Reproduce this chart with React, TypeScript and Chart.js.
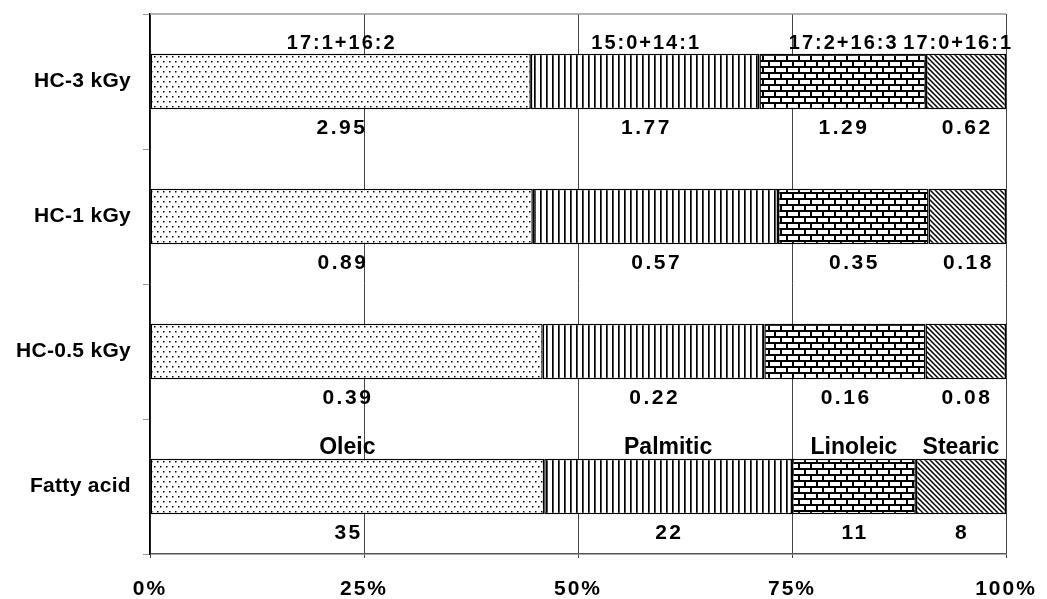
import React, { useEffect, useRef } from "react";
import { Chart, registerables } from "chart.js";

Chart.register(...registerables);

const categories = ["HC-3 kGy", "HC-1 kGy", "HC-0.5 kGy", "Fatty acid"];
const seriesNames = ["Oleic", "Palmitic", "Linoleic", "Stearic"];
const oleic = [2.95, 0.89, 0.39, 35];
const palmitic = [1.77, 0.57, 0.22, 22];
const linoleic = [1.29, 0.35, 0.16, 11];
const stearic = [0.62, 0.18, 0.08, 8];
const compoundLabels = ["17:1+16:2", "15:0+14:1", "17:2+16:3", "17:0+16:1"];
const fattyAcidLabels = ["Oleic", "Palmitic", "Linoleic", "Stearic"];
const xTicks = [0, 25, 50, 75, 100];

const FONT = "'Liberation Sans', Arial, sans-serif";

function makePattern(
  ctx: CanvasRenderingContext2D,
  w: number,
  h: number,
  draw: (g: CanvasRenderingContext2D) => void
) {
  const c = document.createElement("canvas");
  c.width = w;
  c.height = h;
  const g = c.getContext("2d") as CanvasRenderingContext2D;
  g.fillStyle = "#fff";
  g.fillRect(0, 0, w, h);
  g.fillStyle = "#000";
  g.strokeStyle = "#000";
  draw(g);
  return ctx.createPattern(c, "repeat") as CanvasPattern;
}

export default function App() {
  const ref = useRef<HTMLCanvasElement | null>(null);

  useEffect(() => {
    const canvas = ref.current;
    if (!canvas) return;
    const ctx = canvas.getContext("2d") as CanvasRenderingContext2D;

    const dots = makePattern(ctx, 6, 10, (g) => {
      g.fillRect(1, 1, 1.5, 1.5);
      g.fillRect(4, 6, 1.5, 1.5);
    });
    const vlines = makePattern(ctx, 6, 4, (g) => {
      g.fillRect(0, 0, 1.7, 4);
    });
    const bricks = makePattern(ctx, 12, 12, (g) => {
      g.fillRect(0, 0, 12, 2);
      g.fillRect(0, 6, 12, 2);
      g.fillRect(0, 0, 2, 6);
      g.fillRect(6, 6, 2, 6);
    });
    const diag = makePattern(ctx, 5, 5, (g) => {
      g.lineWidth = 1.5;
      g.beginPath();
      g.moveTo(-1, -1);
      g.lineTo(6, 6);
      g.moveTo(-1, 4);
      g.lineTo(1, 6);
      g.moveTo(4, -1);
      g.lineTo(6, 1);
      g.stroke();
    });
    const patterns = [dots, vlines, bricks, diag];

    const series = [oleic, palmitic, linoleic, stearic];
    const totals = categories.map((_, j) =>
      series.reduce((acc, s) => acc + s[j], 0)
    );

    const labelPlugin = {
      id: "segmentLabels",
      afterDatasetsDraw(chart: any) {
        const c = chart.ctx as CanvasRenderingContext2D;
        const area = chart.chartArea;
        c.save();
        // top border of plot frame
        c.strokeStyle = "#999";
        c.lineWidth = 1.5;
        c.beginPath();
        c.moveTo(area.left, area.top);
        c.lineTo(area.right, area.top);
        c.stroke();

        c.fillStyle = "#000";
        c.textAlign = "center";
        c.textBaseline = "alphabetic";
        chart.data.datasets.forEach((_: any, di: number) => {
          const meta = chart.getDatasetMeta(di);
          meta.data.forEach((bar: any, j: number) => {
            const p = bar.getProps(["x", "base", "y", "height"], true);
            const cx = (p.x + p.base) / 2;
            const top = p.y - p.height / 2;
            const bottom = p.y + p.height / 2;
            (c as any).letterSpacing = "2.5px";
            c.font = `bold 21px ${FONT}`;
            c.fillText(String(series[di][j]), cx + 1.25, bottom + 25);
            if (j === 0) {
              (c as any).letterSpacing = "2px";
              c.font = `bold 20px ${FONT}`;
              const w = c.measureText(compoundLabels[di]).width;
              let lx = cx;
              if (lx + w / 2 > area.right + 6) lx = area.right + 6 - w / 2;
              c.fillText(compoundLabels[di], lx + 1, top - 5);
            }
            if (j === categories.length - 1) {
              (c as any).letterSpacing = "0px";
              c.font = `bold 23px ${FONT}`;
              c.fillText(fattyAcidLabels[di], cx, top - 5);
            }
          });
        });
        c.restore();
      },
    };

    const spacingFor: Record<string, string> = { x: "2px", y: "0.3px" };
    const tickSpacingPlugin = {
      id: "tickSpacing",
      beforeDraw(chart: any) {
        Object.keys(spacingFor).forEach((id) => {
          const s = chart.scales[id];
          if (s && !s.__patched) {
            const orig = s.drawLabels;
            s.drawLabels = function (a: any) {
              (this.ctx as any).letterSpacing = spacingFor[id];
              orig.call(this, a);
              (this.ctx as any).letterSpacing = "0px";
            };
            s.__patched = true;
          }
        });
      },
    };

    const chart = new Chart(canvas, {
      type: "bar",
      data: {
        labels: categories,
        datasets: series.map((s, i) => ({
          label: seriesNames[i],
          data: s.map((v, j) => (v / totals[j]) * 100),
          backgroundColor: patterns[i],
          borderColor: "#000",
          borderWidth: 1.5,
          borderSkipped: false,
          barPercentage: 0.41,
          categoryPercentage: 1,
        })),
      },
      options: {
        indexAxis: "y",
        animation: false,
        responsive: true,
        maintainAspectRatio: false,
        layout: { padding: { top: 14, right: 41, left: 0, bottom: 0 } },
        plugins: {
          legend: { display: false },
          tooltip: { enabled: false },
        },
        scales: {
          x: {
            stacked: true,
            min: 0,
            max: 100,
            afterBuildTicks: (s: any) => {
              s.ticks = xTicks.map((v) => ({ value: v }));
            },
            ticks: {
              callback: (v: any) => v + "%",
              color: "#000",
              font: { family: FONT, size: 21, weight: "bold" },
              padding: 19,
              maxRotation: 0,
            },
            grid: { color: "#444", lineWidth: 1, tickLength: 4 },
            border: { color: "#555", width: 1.5 },
            afterFit: (s: any) => {
              s.height = 45;
              s.paddingLeft = 0;
              s.paddingRight = 0;
            },
          },
          y: {
            stacked: true,
            ticks: {
              color: "#000",
              font: { family: FONT, size: 21, weight: "bold" },
              padding: 12,
            },
            grid: {
              offset: true,
              drawOnChartArea: false,
              tickLength: 7,
              color: "#999",
            },
            border: { color: "#000", width: 1.5 },
            afterFit: (s: any) => {
              s.width = 150;
              s.paddingTop = 0;
              s.paddingBottom = 0;
            },
          },
        },
      } as any,
      plugins: [tickSpacingPlugin, labelPlugin],
    });

    return () => chart.destroy();
  }, []);

  return (
    <div
      style={{
        position: "absolute",
        left: 0,
        top: 0,
        width: 1047,
        height: 599,
        background: "#fff",
      }}
    >
      <canvas ref={ref} />
    </div>
  );
}
